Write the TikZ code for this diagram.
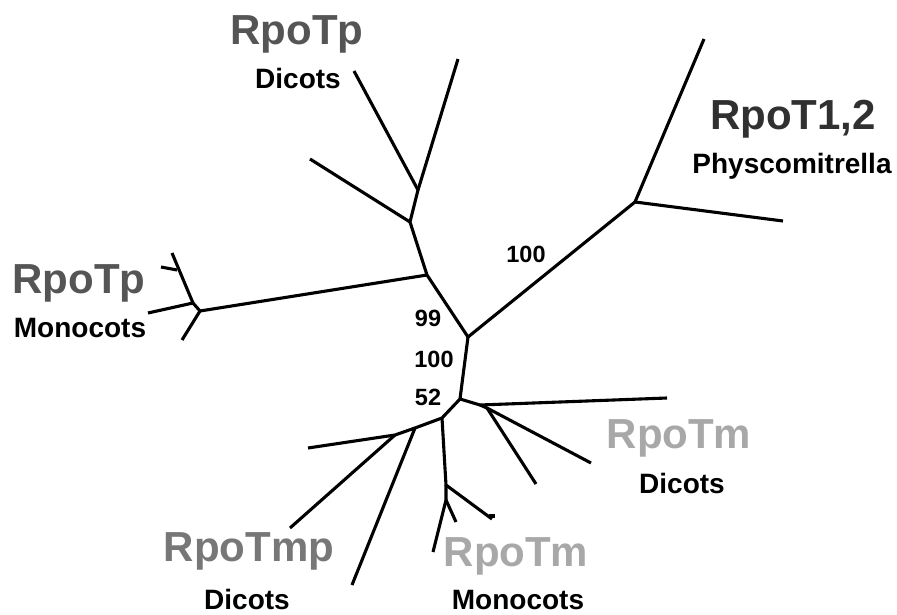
\documentclass[tikz,border=0pt]{standalone}
\usepackage{fontspec}
\setmainfont{Liberation Sans}
\begin{document}
\begin{tikzpicture}[x=1pt,y=-1pt,
  branch/.style={line width=3.1pt, line join=round, line cap=butt},
  biglab/.style={anchor=base, inner sep=0pt, font=\fontsize{42}{42}\selectfont\bfseries},
  smalllab/.style={anchor=base, inner sep=0pt, text=black, font=\fontsize{28}{28}\selectfont\bfseries},
  numlab/.style={anchor=base, inner sep=0pt, text=black, font=\fontsize{23.5}{24}\selectfont\bfseries}]
\definecolor{tpgrey}{HTML}{555555}
\definecolor{t12grey}{HTML}{303030}
\definecolor{tmgrey}{HTML}{A8A8A8}
\definecolor{tmpgrey}{HTML}{777777}
\useasboundingbox (0,0) rectangle (897,615);
% internal nodes
\coordinate (A) at (468,337);
\coordinate (B) at (427,275);
\coordinate (C) at (410,222);
\coordinate (D) at (418,190);
\coordinate (M2) at (200,311);
\coordinate (M1) at (193,303);
\coordinate (P) at (635,202);
\coordinate (E) at (460,399);
\coordinate (F1) at (480,405);
\coordinate (F2) at (487,408);
\coordinate (G) at (442,418);
\coordinate (H) at (415,428);
\coordinate (H2) at (395,435);
\coordinate (I) at (446,485);
\coordinate (I2) at (446,500);
\coordinate (T1) at (177,270);
\coordinate (I1t) at (489,516);
% leaves
\coordinate (c1) at (310,159);
\coordinate (d1) at (354,71);
\coordinate (d2) at (458,59);
\coordinate (m1) at (182,340);
\coordinate (m2) at (172,253);
\coordinate (m3) at (148,313);
\coordinate (t2) at (161,267);
\coordinate (p1) at (704,39);
\coordinate (p2) at (783,221);
\coordinate (f1) at (667,398);
\coordinate (f2) at (591,463);
\coordinate (f3) at (536,484);
\coordinate (h1) at (352,585);
\coordinate (h2) at (308,448);
\coordinate (h3) at (290,528);
\coordinate (i1) at (492,519);
\coordinate (i1b) at (495,516);
\coordinate (i2) at (433,552);
\coordinate (i3) at (456,522);
% branches
\draw[branch] (A) -- (B) -- (C) -- (D) -- (d1);
\draw[branch] (D) -- (d2);
\draw[branch] (C) -- (c1);
\draw[branch] (B) -- (M2) -- (M1) -- (m2);
\draw[branch] (M2) -- (m1);
\draw[branch] (M1) -- (m3);
\draw[branch] (T1) -- (t2);
\draw[branch] (A) -- (P) -- (p1);
\draw[branch] (P) -- (p2);
\draw[branch] (A) -- (E) -- (F1) -- (f1);
\draw[branch] (F1) -- (F2) -- (f2);
\draw[branch] (F2) -- (f3);
\draw[branch] (E) -- (G) -- (H) -- (h1);
\draw[branch] (H) -- (H2) -- (h2);
\draw[branch] (H2) -- (h3);
\draw[branch] (G) -- (I) -- (i1);
\draw[branch] (I1t) -- (i1b);
\draw[branch] (I) -- (I2) -- (i2);
\draw[branch] (I2) -- (i3);
% labels
\node[biglab, text=tpgrey] (tpd) at (297,45) {RpoTp};
\node[smalllab] (tpdsub) at (298,89) {Dicots};
\node[biglab, text=t12grey] (t12) at (793,130) {RpoT1,2};
\node[smalllab] (t12sub) at (792,173) {Physcomitrella};
\node[biglab, text=tpgrey] (tpm) at (79,293) {RpoTp};
\node[smalllab] (tpmsub) at (80,337) {Monocots};
\node[biglab, text=tmgrey] (tmd) at (679,448) {RpoTm};
\node[smalllab] (tmdsub) at (682,493) {Dicots};
\node[biglab, text=tmgrey] (tmm) at (516,566) {RpoTm};
\node[smalllab] (tmmsub) at (518,609) {Monocots};
\node[biglab, text=tmpgrey] (tmp) at (249,561) {RpoTmp};
\node[smalllab] (tmpsub) at (247,609) {Dicots};
\node[numlab] (n100a) at (526,262) {100};
\node[numlab] (n99) at (428,326) {99};
\node[numlab] (n100b) at (434,367) {100};
\node[numlab] (n52) at (428,405) {52};
\end{tikzpicture}
\end{document}
